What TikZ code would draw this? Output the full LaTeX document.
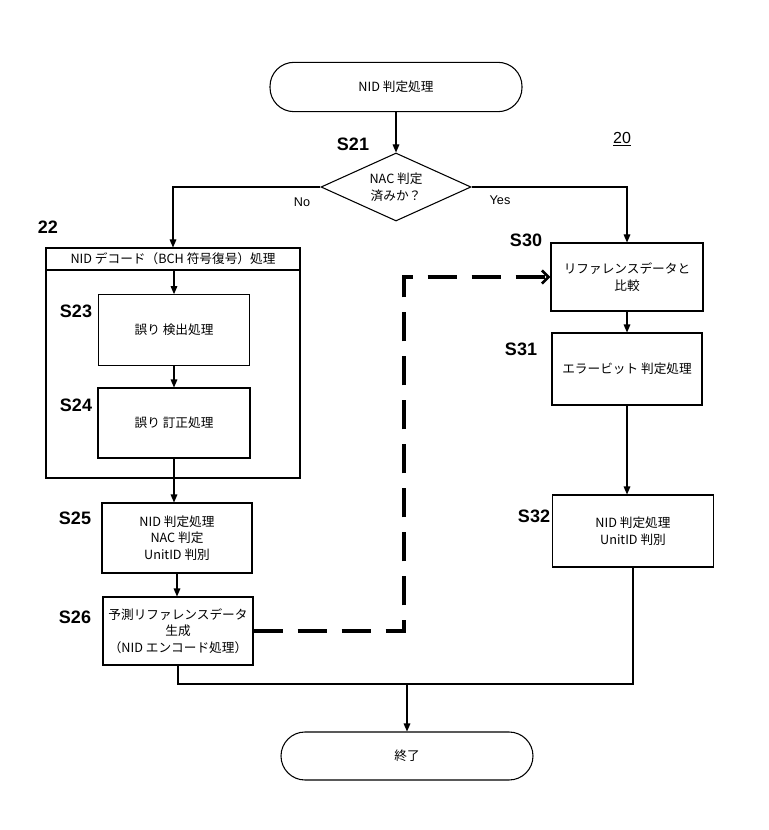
\documentclass[tikz,border=0pt]{standalone}
\usepackage{fontspec}
\setmainfont{Liberation Sans}
\newfontfamily\jp{Noto Sans CJK JP}
\usetikzlibrary{shapes.geometric,arrows.meta}

\begin{document}
\begin{tikzpicture}[x=0.75pt,y=0.75pt,yscale=-1,xscale=1,
  proc/.style={draw, line width=0.8pt, align=center, inner sep=0pt, font=\jp\fontsize{9.5}{12.5}\selectfont},
  term/.style={proc, rounded corners=18pt, minimum width=189pt, minimum height=37pt},
  steplbl/.style={font=\bfseries\fontsize{13.5}{13.5}\selectfont},
  flow/.style={line width=0.8pt, -{Triangle[length=6pt,width=5pt]}},
  refline/.style={line width=3pt, dash pattern=on 22pt off 11pt, -{Straight Barb[length=5pt,width=10pt,line width=2pt]}}
]
\useasboundingbox (0,0) rectangle (768,830);

%Shape: Terminal
\node [term] (start) at (396,87) {NID 判定処理};
%Shape: Diamond
\node [proc, diamond, aspect=2.2, minimum width=112.5pt, minimum height=51pt] (nac) at (396,187) {NAC 判定\\済みか？};
%Shape: Group 22
\node [draw, line width=0.8pt, minimum width=190.5pt, minimum height=156pt] (grp) at (173,374) {};
\node [proc, minimum width=190.5pt, minimum height=16.5pt] (hdr) at (173,259) {NID デコード（BCH 符号復号）処理};
%Shape: Rectangle
\node [proc, minimum width=113pt, minimum height=53pt] (s23) at (174,330) {誤り 検出処理};
\node [proc, minimum width=114pt, minimum height=52.5pt] (s24) at (174,423) {誤り 訂正処理};
\node [proc, minimum width=112.5pt, minimum height=52.5pt] (s25) at (177,538) {NID 判定処理\\NAC 判定\\UnitID 判別};
\node [proc, minimum width=112.5pt, minimum height=51pt] (s26) at (178,631) {予測リファレンスデータ\\生成\\（NID エンコード処理）};
\node [proc, minimum width=114pt, minimum height=51pt] (s30) at (627,277) {リファレンスデータと\\比較};
\node [proc, minimum width=112.5pt, minimum height=54pt] (s31) at (627,369) {エラービット 判定処理};
\node [proc, minimum width=121pt, minimum height=54pt] (s32) at (633,531) {NID 判定処理\\UnitID 判別};
%Shape: Terminal
\node [term, minimum height=36pt] (end) at (407,756) {終了};

\coordinate (jn) at (407,684);
\coordinate (dk) at (404,277);

%Straight Lines
\draw [flow] (start.south) -- (nac.north);
\draw [flow] (nac.west) -| (hdr.north);
\draw [flow] (nac.east) -| (s30.north);
\draw [flow] (hdr.south -| s23.north) -- (s23.north);
\draw [flow] (s23.south) -- (s24.north);
\draw [flow] (s24.south) -- (s24.south |- s25.north);
\draw [flow] (s25.south) -- (s25.south |- s26.north);
\draw [flow] (s30.south) -- (s31.north);
\draw [flow] (s31.south) -- (s31.south |- s32.north);
\draw [line width=0.8pt] (s26.south) |- (jn) -| (s32.south);
\draw [flow] (jn) -- (end.north);
%Dashed Lines
\draw [refline] (s26.east) -| (dk) -- (s30.west);

% Text Node
\node [steplbl] (l21) at (353,144) {S21};
\node [steplbl] (l22) at (48,227) {22};
\node [steplbl] (l23) at (76,311) {S23};
\node [steplbl] (l24) at (76,405) {S24};
\node [steplbl] (l25) at (75,518) {S25};
\node [steplbl] (l26) at (75,617) {S26};
\node [steplbl] (l30) at (526,240) {S30};
\node [steplbl] (l31) at (521,349) {S31};
\node [steplbl] (l32) at (534,516) {S32};
\node [steplbl, font=\fontsize{12}{12}\selectfont] (l20) at (622,139) {\underline{20}};
% Text Node
\node [font=\fontsize{9.5}{10}\selectfont] (no) at (302,202) {No};
\node [font=\fontsize{9.5}{10}\selectfont] (yes) at (500,200) {Yes};

\end{tikzpicture}
\end{document}
